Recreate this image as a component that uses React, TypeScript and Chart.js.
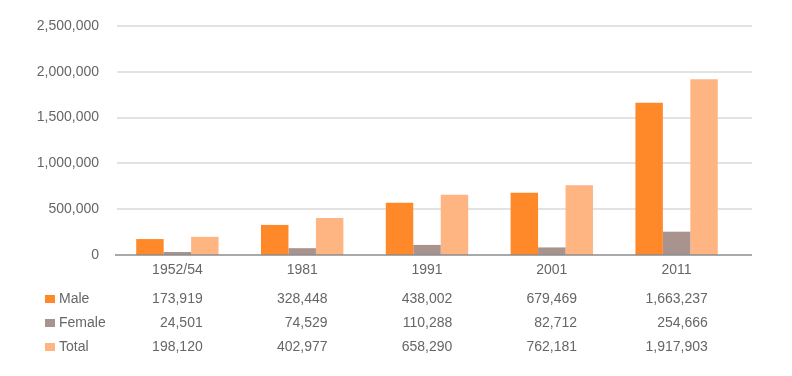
import React, { useEffect, useRef } from "react";
import { Chart, registerables } from "chart.js";

Chart.register(...registerables);

// ---- data ----
const categories = ["1952/54", "1981", "1991", "2001", "2011"];
const seriesNames = ["Male", "Female", "Total"];
// bar heights as drawn in the picture
const maleValues = [173919, 328448, 570000, 679469, 1663237];
const femaleValues = [24501, 74529, 110288, 82712, 254666];
const totalValues = [198120, 402977, 658290, 762181, 1917903];
// values printed in the data table
const maleTable = [173919, 328448, 438002, 679469, 1663237];
const femaleTable = [24501, 74529, 110288, 82712, 254666];
const totalTable = [198120, 402977, 658290, 762181, 1917903];
const yTickValues = [0, 500000, 1000000, 1500000, 2000000, 2500000];

const COLORS = ["#FF8829", "#A8938F", "#FFB582"];
const TEXT = "#666666";
const FONT_FAMILY = "'Liberation Sans', Arial, sans-serif";

const fmt = (v: number) => v.toLocaleString("en-US");

const extrasPlugin = {
  id: "extras",
  beforeDatasetsDraw(chart: any) {
    const { ctx, chartArea, scales } = chart;
    const y = scales.y;
    const right = chartArea.right + 13;
    ctx.save();
    ctx.strokeStyle = "#D9D9D9";
    ctx.lineWidth = 1.5;
    y.ticks.forEach((t: any) => {
      if (t.value === 0) return;
      const py = Math.round(y.getPixelForValue(t.value));
      ctx.beginPath();
      ctx.moveTo(chartArea.left + 2, py);
      ctx.lineTo(right, py);
      ctx.stroke();
    });
    ctx.restore();
  },
  afterDatasetsDraw(chart: any) {
    const { ctx, chartArea, scales } = chart;
    const x = scales.x;
    const y = scales.y;
    ctx.save();
    // zero axis line
    const py0 = Math.round(y.getPixelForValue(0));
    ctx.strokeStyle = "#8C8C8C";
    ctx.lineWidth = 1.5;
    ctx.beginPath();
    ctx.moveTo(chartArea.left, py0);
    ctx.lineTo(chartArea.right + 13, py0);
    ctx.stroke();

    // data table
    ctx.font = `14px ${FONT_FAMILY}`;
    ctx.fillStyle = TEXT;
    ctx.textBaseline = "middle";
    const rows = [maleTable, femaleTable, totalTable];
    const rowY = [44, 68, 92].map((d) => chartArea.bottom + d);
    rows.forEach((row, r) => {
      // legend key
      ctx.fillStyle = COLORS[r];
      ctx.fillRect(45, rowY[r] - 4, 10, 8);
      ctx.fillStyle = TEXT;
      ctx.textAlign = "left";
      ctx.fillText(seriesNames[r], 59, rowY[r]);
    });
    categories.forEach((_, i) => {
      const cx = x.getPixelForValue(i);
      const texts = rows.map((row) => fmt(row[i]));
      const maxW = Math.max(...texts.map((t) => ctx.measureText(t).width));
      const rightEdge = cx + maxW / 2;
      ctx.textAlign = "right";
      texts.forEach((t, r) => ctx.fillText(t, rightEdge, rowY[r]));
    });
    ctx.restore();
  },
};

export default function App() {
  const ref = useRef<HTMLCanvasElement | null>(null);
  useEffect(() => {
    if (!ref.current) return;
    const chart = new Chart(ref.current, {
      type: "bar",
      data: {
        labels: categories,
        datasets: [
          { label: seriesNames[0], data: maleValues, backgroundColor: COLORS[0] },
          { label: seriesNames[1], data: femaleValues, backgroundColor: COLORS[1] },
          { label: seriesNames[2], data: totalValues, backgroundColor: COLORS[2] },
        ],
      },
      options: {
        responsive: false,
        animation: false,
        layout: { padding: { top: 26, right: 53, left: 0, bottom: 0 } },
        datasets: { bar: { barPercentage: 1, categoryPercentage: 0.66, minBarLength: 3 } },
        plugins: { legend: { display: false }, tooltip: { enabled: false } },
        scales: {
          x: {
            grid: { display: false, drawTicks: false },
            border: { display: false },
            ticks: {
              color: TEXT,
              font: { size: 14, family: FONT_FAMILY },
              padding: 7,
              maxRotation: 0,
            },
            afterFit: (s: any) => {
              s.height = 121;
            },
          },
          y: {
            min: 0,
            max: 2500000,
            afterBuildTicks: (s: any) => {
              s.ticks = yTickValues.map((v) => ({ value: v }));
            },
            grid: { display: false, drawTicks: false },
            border: { display: false },
            ticks: {
              color: TEXT,
              font: { size: 14, family: FONT_FAMILY },
              padding: 16,
              callback: (v: any) => fmt(Number(v)),
            },
            afterFit: (s: any) => {
              s.width = 115;
            },
          },
        },
      },
      plugins: [extrasPlugin],
    });
    return () => chart.destroy();
  }, []);
  return (
    <div style={{ position: "fixed", left: 0, top: 0, width: 792, height: 376, background: "#fff" }}>
      <canvas ref={ref} width={792} height={376} style={{ display: "block" }} />
    </div>
  );
}
